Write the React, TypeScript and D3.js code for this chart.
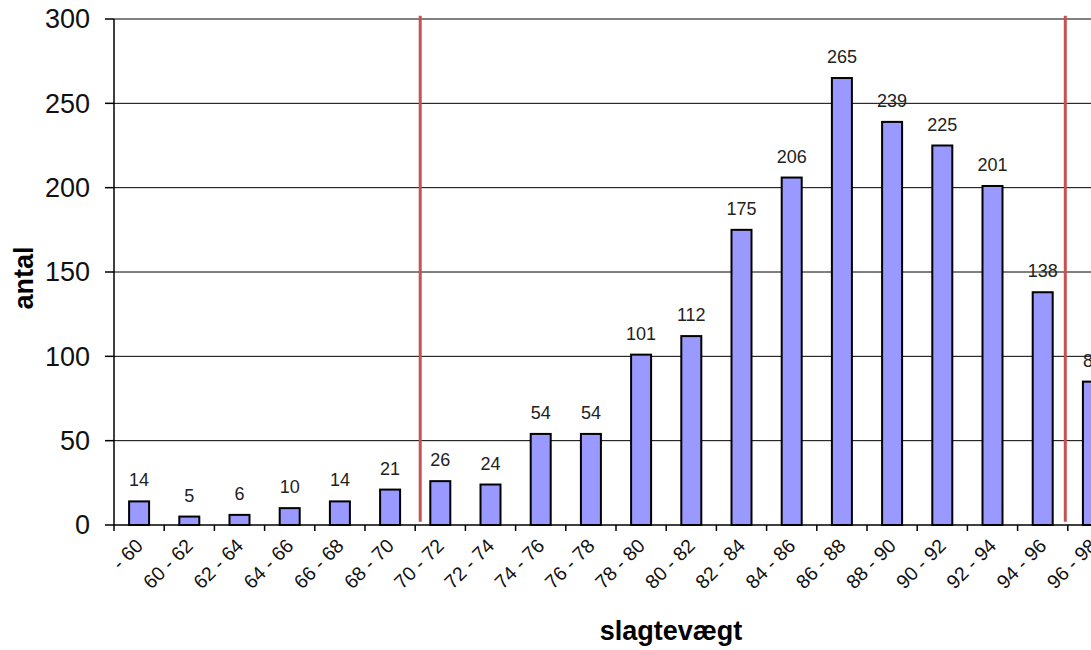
import React from "react";
import * as d3 from "d3";

const categories = [
  "- 60", "60 - 62", "62 - 64", "64 - 66", "66 - 68", "68 - 70", "70 - 72",
  "72 - 74", "74 - 76", "76 - 78", "78 - 80", "80 - 82", "82 - 84", "84 - 86",
  "86 - 88", "88 - 90", "90 - 92", "92 - 94", "94 - 96", "96 - 98",
];
const counts = [14, 5, 6, 10, 14, 21, 26, 24, 54, 54, 101, 112, 175, 206, 265, 239, 225, 201, 138, 85];
const yTicks = [0, 50, 100, 150, 200, 250, 300];
// vertical reference lines (slaughter weight, kg) and their vertical extent (antal)
const refWeights = [70.2, 95.9];
const refExtent = [2, 302];

const W = 1091;
const H = 650;
const left = 114;
const bandW = 50.2;
const top = 19;
const bottom = 525;

export default function App() {
  const x = d3
    .scaleBand<string>()
    .domain(categories)
    .range([left, left + bandW * categories.length])
    .paddingInner(0)
    .paddingOuter(0);
  const y = d3.scaleLinear().domain([0, 300]).range([bottom, top]);
  // weight scale: first category starts at 58 kg, 2 kg per band
  const xw = d3
    .scaleLinear()
    .domain([58, 58 + 2 * categories.length])
    .range([left, left + bandW * categories.length]);
  const barW = 20;
  const font = "'Liberation Sans', Arial, sans-serif";
  const plotRight = left + bandW * categories.length;

  return (
    <svg
      width={W}
      height={H}
      style={{ position: "absolute", left: 0, top: 0, background: "#fff" }}
      fontFamily={font}
    >
      {/* gridlines */}
      {yTicks
        .filter((t) => t > 0 && t < 300)
        .map((t) => (
          <line key={t} x1={left} x2={plotRight} y1={y(t)} y2={y(t)} stroke="#000" strokeWidth={1} />
        ))}
      <line x1={left} x2={plotRight} y1={y(300)} y2={y(300)} stroke="#808080" strokeWidth={2} />

      {/* bars */}
      {categories.map((c, i) => {
        const bx = (x(c) as number) + (bandW - barW) / 2;
        return (
          <g key={c}>
            <rect
              x={bx}
              y={y(counts[i])}
              width={barW}
              height={y(0) - y(counts[i])}
              fill="#9999ff"
              stroke="#000"
              strokeWidth={2}
            />
            <text
              x={bx + barW / 2}
              y={y(counts[i]) - 15}
              textAnchor="middle"
              fontSize={18}
              fill="#222"
            >
              {counts[i]}
            </text>
          </g>
        );
      })}

      {/* reference lines */}
      {refWeights.map((w) => (
        <line
          key={w}
          x1={xw(w)}
          x2={xw(w)}
          y1={y(refExtent[0])}
          y2={y(refExtent[1])}
          stroke="#c8504f"
          strokeWidth={3}
        />
      ))}

      {/* y axis */}
      <line x1={left} x2={left} y1={top} y2={bottom} stroke="#000" strokeWidth={1.5} />
      {yTicks.map((t) => (
        <g key={t}>
          <line x1={left - 9} x2={left} y1={y(t)} y2={y(t)} stroke="#000" strokeWidth={1.5} />
          <text x={90} y={y(t)} dy="0.35em" textAnchor="end" fontSize={27} fill="#111">
            {t}
          </text>
        </g>
      ))}

      {/* x axis */}
      <line x1={left} x2={plotRight} y1={bottom} y2={bottom} stroke="#000" strokeWidth={1.5} />
      {categories.map((c) => (
        <line
          key={"t" + c}
          x1={x(c) as number}
          x2={x(c) as number}
          y1={bottom}
          y2={bottom + 6}
          stroke="#000"
          strokeWidth={1.5}
        />
      ))}
      {categories.map((c) => {
        const cx = (x(c) as number) + bandW / 2;
        return (
          <text
            key={"l" + c}
            transform={`translate(${cx + 5},${547}) rotate(-45)`}
            textAnchor="end"
            fontSize={19.5}
            fill="#111"
          >
            {c}
          </text>
        );
      })}

      {/* axis titles */}
      <text x={671} y={640} textAnchor="middle" fontSize={27} fontWeight="bold" fill="#000">
        slagtevægt
      </text>
      <text
        transform={`translate(33,278) rotate(-90)`}
        textAnchor="middle"
        fontSize={27}
        fontWeight="bold"
        fill="#000"
      >
        antal
      </text>
    </svg>
  );
}
